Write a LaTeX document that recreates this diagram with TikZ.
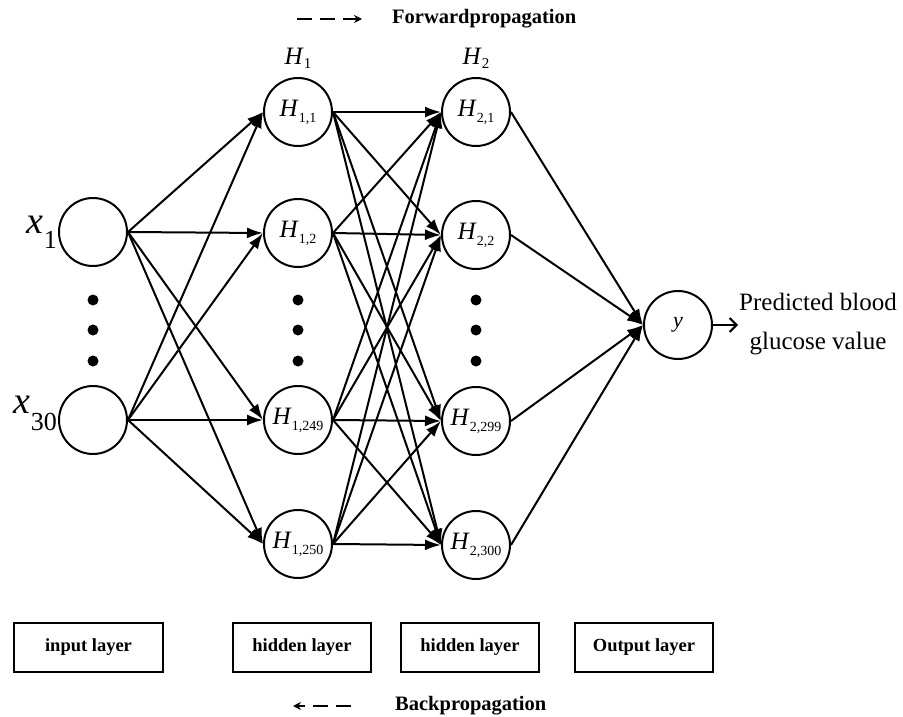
\documentclass[tikz,border=0pt]{standalone}
\usepackage{fontspec}
\setmainfont{Liberation Serif}
\usetikzlibrary{arrows.meta}
\newcommand{\hlab}[1]{{\fontsize{25}{25}\selectfont\textit{H}}\raisebox{-6pt}{\fontsize{14}{14}\selectfont #1}}
\newcommand{\xlab}[2]{{\fontsize{38}{38}\selectfont\textit{x}}\raisebox{#2}{\fontsize{26}{26}\selectfont #1}}
\begin{document}
\begin{tikzpicture}[x=1pt,y=-1pt,
  neuron/.style={circle,draw,line width=2pt,minimum size=68pt,inner sep=0pt},
  edge/.style={line width=2pt,-{Latex[length=16pt,width=11pt]}},
  dotmark/.style={circle,fill,inner sep=0pt,minimum size=11pt},
  layerbox/.style={draw,line width=1.5pt,minimum height=49pt,inner sep=0pt,font=\fontsize{18.5}{18.5}\selectfont\bfseries},
  legend/.style={font=\fontsize{20.5}{20.5}\selectfont\bfseries,anchor=west,inner sep=0pt},
  legarrow/.style={line width=1.8pt,dash pattern=on 15pt off 8pt,-{Stealth[length=8pt,width=8pt]}}]
\path[use as bounding box] (0,0) rectangle (903,717);

% neurons
\node[neuron] (x1) at (93,232) {};
\node[neuron] (x30) at (93,420) {};
\node[neuron] (h11) at (298,112) {\hlab{1,1}};
\node[neuron] (h12) at (298,233) {\hlab{1,2}};
\node[neuron] (h1249) at (298,420) {\hlab{1,249}};
\node[neuron] (h1250) at (298,544) {\hlab{1,250}};
\node[neuron] (h21) at (476,112) {\hlab{2,1}};
\node[neuron] (h22) at (476,235) {\hlab{2,2}};
\node[neuron] (h2299) at (476,421) {\hlab{2,299}};
\node[neuron] (h2300) at (476,545) {\hlab{2,300}};
\node[neuron] (y) at (678,325) {\fontsize{22}{22}\selectfont\textit{y}};

% labels
\node[anchor=base east,inner sep=0pt] (lx1) at (57,233) {\xlab{1}{-15pt}};
\node[anchor=base east,inner sep=0pt] (lx30) at (57,413) {\xlab{30}{-17pt}};
\node[anchor=base,inner sep=0pt] (lh1) at (298,65) {{\fontsize{25}{25}\selectfont\textit{H}}\raisebox{-4pt}{\fontsize{15}{15}\selectfont 1}};
\node[anchor=base,inner sep=0pt] (lh2) at (476,65) {{\fontsize{25}{25}\selectfont\textit{H}}\raisebox{-4pt}{\fontsize{15}{15}\selectfont 2}};

% dots
\foreach \xx in {93,298,476}
  \foreach \yy in {300,330,361}
    \node[dotmark] (d\xx-\yy) at (\xx,\yy) {};

% edges
\foreach \s in {x1,x30}
  \foreach \t in {h11,h12,h1249,h1250}
    \draw[edge] (\s.east) -- (\t.west);
\foreach \s in {h11,h12,h1249,h1250}
  \foreach \t in {h21,h22,h2299,h2300}
    \draw[edge] (\s.east) -- (\t.west);
\foreach \s in {h21,h22,h2299,h2300}
  \draw[edge] (\s.east) -- (y.west);

% output
\coordinate (outend) at (738,325);
\draw[line width=2pt,-{Straight Barb[length=7pt,width=14pt]}] (y.east) -- (outend);
\node[align=center,font=\fontsize{25}{39}\selectfont,inner sep=0pt] (pred) at (818,324) {Predicted blood\\glucose value};

% legend
\coordinate (fa) at (297,19);
\coordinate (fb) at (362,19);
\draw[legarrow] (fa) -- (fb);
\node[legend] (fwd) at (392,19) {Forwardpropagation};
\coordinate (ba) at (351,706);
\coordinate (bb) at (293,706);
\draw[legarrow] (ba) -- (bb);
\node[legend] (bwd) at (395,706) {Backpropagation};

% layer boxes
\node[layerbox,minimum width=149pt] (bin) at (88.5,647.5) {input layer};
\node[layerbox,minimum width=138pt] (bh1) at (302,647.5) {hidden layer};
\node[layerbox,minimum width=138pt] (bh2) at (470,647.5) {hidden layer};
\node[layerbox,minimum width=138pt] (bout) at (644,647.5) {Output layer};
\end{tikzpicture}
\end{document}
